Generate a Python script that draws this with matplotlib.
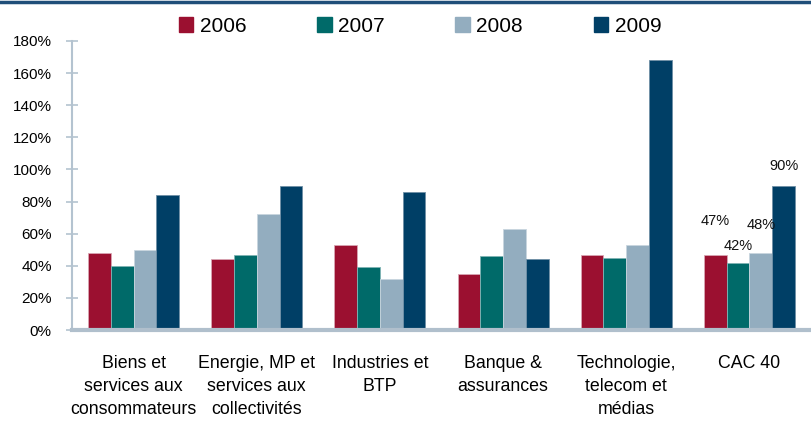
import matplotlib
matplotlib.use("Agg")
import matplotlib.pyplot as plt
import numpy as np
from matplotlib.patches import Patch
from matplotlib.lines import Line2D

categories = ["Biens et\nservices aux\nconsommateurs",
              "Energie, MP et\nservices aux\ncollectivités",
              "Industries et\nBTP",
              "Banque &\nassurances",
              "Technologie,\ntelecom et\nmédias",
              "CAC 40"]
years = ["2006", "2007", "2008", "2009"]
v2006 = [48, 44, 53, 35, 47, 47]
v2007 = [40, 47, 39, 46, 45, 42]
v2008 = [50, 72, 32, 63, 53, 48]
v2009 = [84, 90, 86, 44, 168, 90]
cac_labels = ["47%", "42%", "48%", "90%"]
yticks = [0, 20, 40, 60, 80, 100, 120, 140, 160, 180]

colors = ["#9B1030", "#006A69", "#93ADBF", "#003F66"]
edge_colors = ["#d9a6b3", "#7fb3b3", "#c9d6df", "#6f8fa6"]

plt.rcParams['font.family'] = ['Liberation Sans', 'DejaVu Sans']

fig = plt.figure(figsize=(8.11, 4.21), dpi=100)
ax = fig.add_axes([72/811, 1-330/421, 1-72/811, (330-41)/421])

series = [v2006, v2007, v2008, v2009]
x = np.arange(len(categories))
w = 0.185
bars_all = []
for i, (vals, c, ec) in enumerate(zip(series, colors, edge_colors)):
    b = ax.bar(x + (i - 1.5) * w, vals, width=w, color=c, edgecolor=ec,
               linewidth=0.6, zorder=2)
    bars_all.append(b)

# CAC 40 labels
offsets = [(0, 19), (0, 7), (0, 15), (0, 9)]
for i, (lab, off) in enumerate(zip(cac_labels, offsets)):
    rect = bars_all[i][5]
    ax.annotate(lab, (rect.get_x() + rect.get_width() / 2, rect.get_height()),
                xytext=off, textcoords="offset points", ha="center", va="bottom",
                fontsize=10.5, color="#111111")

ax.set_xlim(-0.5, 5.5)
ax.set_ylim(0, 180)
ax.set_yticks(yticks)
ax.set_yticklabels([f"{t}%" for t in yticks], fontsize=11)
ax.set_xticks(x)
ax.set_xticklabels(categories, fontsize=12.8, linespacing=1.45)
ax.tick_params(axis='x', length=0, pad=18)
ax.tick_params(axis='y', direction='inout', length=9, width=1.2, color="#b4c3d0", pad=10)

for s in ["top", "right"]:
    ax.spines[s].set_visible(False)
ax.spines["left"].set_color("#b4c3d0")
ax.spines["left"].set_linewidth(1.5)
ax.spines["bottom"].set_color("#b0bfcc")
ax.spines["bottom"].set_linewidth(3)
ax.spines["bottom"].set_zorder(3)

handles = [Patch(facecolor=c, edgecolor=c) for c in colors]
fig.legend(handles, years, loc="center", bbox_to_anchor=(420/811, 1-26/421),
           ncol=4, frameon=False, handlelength=0.7, handleheight=0.7,
           handletextpad=0.3, columnspacing=3.4,
           prop={'family': ['Liberation Sans', 'DejaVu Sans'], 'size': 15})

fig.add_artist(Line2D([0, 1], [1 - 1.5/421, 1 - 1.5/421], color="#1f4e79",
                      linewidth=2.5, transform=fig.transFigure))

fig.savefig("out.png", dpi=100)
